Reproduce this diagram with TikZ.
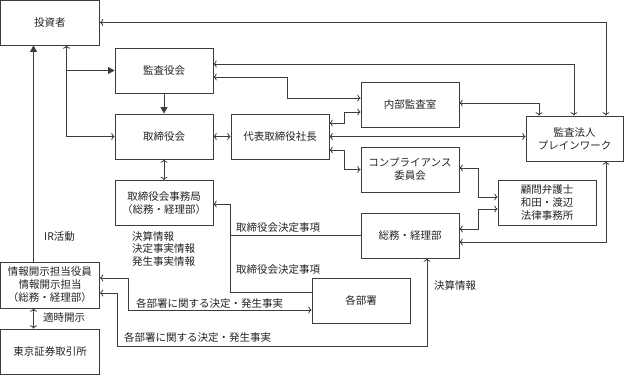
\documentclass[tikz,border=0pt]{standalone}
\usepackage{fontspec}
\setmainfont{Noto Sans CJK JP}
\usetikzlibrary{arrows.meta}
\definecolor{linegray}{RGB}{60,60,60}
\definecolor{textgray}{RGB}{35,35,35}
\tikzset{
  box/.style={draw=linegray,line width=0.8pt,minimum width=98pt,minimum height=45pt,
    align=center,inner sep=1pt,text=textgray,font=\fontsize{10.5}{13}\selectfont},
  conn/.style={draw=linegray,line width=0.8pt,arrows={-Triangle[length=6.5pt,width=7pt]}},
  lbl/.style={anchor=west,inner sep=0pt,text=textgray,font=\fontsize{10.5}{12.5}\selectfont}
}
\begin{document}
\begin{tikzpicture}[x=1pt,y=1pt]
  \useasboundingbox (0,0) rectangle (624,375);
  % boxes
  \node[box,minimum width=99pt] (inv) at (50,352.5) {投資者};
  \node[box] (kansa) at (164,304.5) {監査役会};
  \node[box] (board) at (164,238.5) {取締役会};
  \node[box] (ceo) at (280,238.5) {代表取締役社長};
  \node[box] (audit) at (410,270.5) {内部監査室};
  \node[box] (comp) at (410,205.5) {コンプライアンス\\委員会};
  \node[box,minimum width=97pt] (firm) at (574.5,236.5) {監査法人\\プレインワーク};
  \node[box] (lawyer) at (547,172.5) {顧問弁護士\\和田・渡辺\\法律事務所};
  \node[box] (soumu) at (410,139.5) {総務・経理部};
  \node[box] (depts) at (361,74.5) {各部署};
  \node[box] (sec) at (164,172) {取締役会事務局\\（総務・経理部）};
  \node[box,minimum width=99pt,minimum height=46pt] (disc) at (50,90) {情報開示担当役員\\情報開示担当\\（総務・経理部）};
  \node[box,minimum width=99pt] (tse) at (50,23.5) {東京証券取引所};

  % junctions
  \coordinate (jk) at ([xshift=16.5]inv.south |- kansa.west);
  \coordinate (jr) at (ceo.west |- soumu.west);

  % connectors
  \draw[conn,<->] (inv.east) -| ([xshift=31.5]firm.north);
  \draw[conn,<->] ([yshift=6.5]kansa.east) -| ([xshift=-0.5]firm.north);
  \draw[conn,<->] ([yshift=-6.5]kansa.east) -- ++(74,0) |- ([yshift=6.5]audit.west);
  \draw[conn] (kansa.south) -- (board.north);
  \draw[conn,<->] ([xshift=16.5]inv.south) |- (board.west);
  \draw[conn] (jk) -- (kansa.west);
  \draw[conn,<->] (board.east) -- (ceo.west);
  \draw[conn,<->] (board.south) -- (sec.north);
  \draw[conn,<->] ([yshift=13.5]ceo.east) -- ++(15,0) |- ([yshift=-7.5]audit.west);
  \draw[conn,<->] (ceo.east) -- (ceo.east -| firm.west);
  \draw[conn,<->] ([yshift=-13.5]ceo.east) -- ++(15,0) |- (comp.west);
  \draw[conn,<->] ([yshift=1.5]audit.east) -| ([xshift=-35.5]firm.north);
  \draw[conn,<->] ([yshift=1.5]comp.east) -- ++(19,0) |- ([yshift=5.5]lawyer.west);
  \draw[conn,<->] ([yshift=6.5]soumu.east) -- ++(19,0) |- ([yshift=-6.5]lawyer.west);
  \draw[conn,<->] ([yshift=-6.5]soumu.east) -| ([xshift=31.5]firm.south);
  \draw[conn,<-] ([yshift=-1]sec.east) -| (jr) |- ([yshift=8.5]depts.west);
  \draw[conn,-] (jr) -- (soumu.west);
  \draw[conn,<->] ([yshift=7]disc.east) -- ++(28.5,0) |- ([yshift=-9.5]depts.west);
  \draw[conn,<->] ([yshift=-8]disc.east) -- ++(17.5,0) |- ++(0,-53) -| ([xshift=17]soumu.south);
  \draw[conn] ([xshift=-16.5]disc.north) -- ([xshift=-16.5]inv.south);
  \draw[conn,<->] ([xshift=-16.5]disc.south) -- ([xshift=-16.5]tse.north);

  % labels
  \node[lbl] (ir) at (44,138) {IR活動};
  \node[lbl] (tekiji) at (43,57) {適時開示};
  \node[lbl,anchor=north west,align=left] (kessan) at (132,144) {決算情報\\決定事実情報\\発生事実情報};
  \node[lbl] (kettei1) at (236,147) {取締役会決定事項};
  \node[lbl] (kettei2) at (236,105) {取締役会決定事項};
  \node[lbl] (kakubu1) at (136,72) {各部署に関する決定・発生事実};
  \node[lbl] (kakubu2) at (124,38) {各部署に関する決定・発生事実};
  \node[lbl] (kessan2) at (434,90) {決算情報};
\end{tikzpicture}
\end{document}
